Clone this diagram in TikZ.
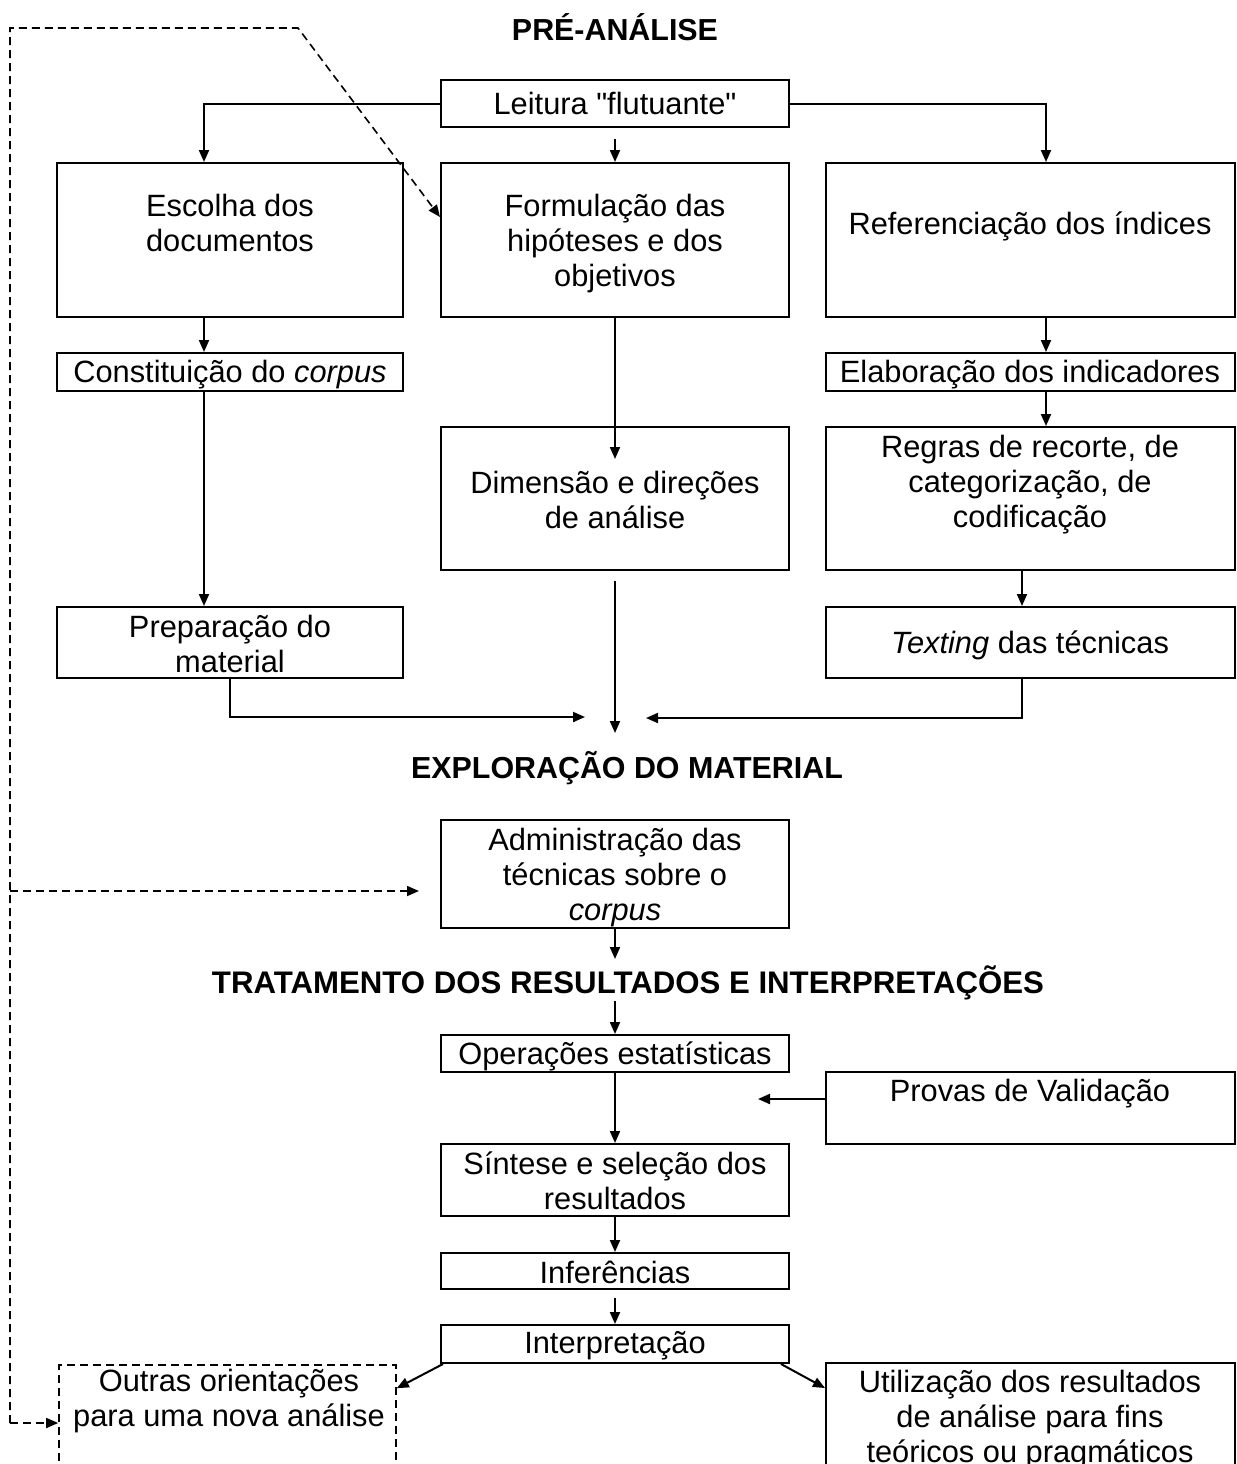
\documentclass[tikz,border=0pt]{standalone}
\usepackage{fontspec}
\setmainfont{Liberation Sans}
\newfontfamily\qfont{Liberation Sans}
\usetikzlibrary{arrows.meta,fit,calc}
\tikzset{
  box/.style={draw, line width=1pt, inner sep=0pt},
  dbox/.style={draw, line width=0.8pt, dash pattern=on 4pt off 2.5pt, inner sep=0pt},
  txt/.style={align=center, inner sep=0pt, font=\fontsize{15.4}{17.5}\selectfont},
  head/.style={inner sep=0pt, font=\fontsize{15.2}{18}\selectfont\bfseries},
  arr/.style={line width=1pt, -{Triangle[length=6pt,width=5pt]}},
  darr/.style={line width=0.8pt, dash pattern=on 4pt off 2.5pt, -{Triangle[length=6pt,width=5pt]}},
}
\begin{document}
\begin{tikzpicture}[x=0.5pt,y=-0.5pt]
\clip (0,0) rectangle (1237,1464);
\fill[white] (0,0) rectangle (1237,1464);

% headings
\node[head] (pre) at (615,27) {PRÉ-ANÁLISE};
\node[head] (expl) at (627,768) {EXPLORAÇÃO DO MATERIAL};
\node[head, font=\fontsize{15.6}{18}\selectfont\bfseries] (trat) at (628,983) {TRATAMENTO DOS RESULTADOS E INTERPRETAÇÕES};

% boxes
\node[box, fit={(441,80) (789,127)}] (leit) {};
\node[box, fit={(57,163) (403,317)}] (esc) {};
\node[box, fit={(441,163) (789,317)}] (form) {};
\node[box, fit={(826,163) (1235,317)}] (ref) {};
\node[box, fit={(57,353) (403,391)}] (const) {};
\node[box, fit={(826,353) (1235,391)}] (elab) {};
\node[box, fit={(441,427) (789,570)}] (dim) {};
\node[box, fit={(826,427) (1235,570)}] (regr) {};
\node[box, fit={(57,607) (403,678)}] (prep) {};
\node[box, fit={(826,607) (1235,678)}] (texting) {};
\node[box, fit={(441,820) (789,928)}] (admin) {};
\node[box, fit={(441,1035) (789,1072)}] (oper) {};
\node[box, fit={(826,1072) (1235,1144)}] (prov) {};
\node[box, fit={(441,1144) (789,1216)}] (sint) {};
\node[box, fit={(441,1253) (789,1289)}] (infer) {};
\node[box, fit={(441,1325) (789,1363)}] (interp) {};
\node[dbox, fit={(59,1365) (396,1500)}] (outras) {};
\node[box, fit={(826,1363) (1235,1500)}] (util) {};

% texts
\node[txt] (leitT) at (615,103) {Leitura {\qfont"}flutuante{\qfont"}};
\node[txt] (escT) at (230,223) {Escolha dos\\documentos};
\node[txt] (formT) at (615,244) {Formulação das\\hipóteses e dos\\objetivos};
\node[txt] (refT) at (1030,226) {Referenciação dos índices};
\node[txt] (constT) at (230,375) {Constituição do \textit{corpus}};
\node[txt] (elabT) at (1030,375) {Elaboração dos indicadores};
\node[txt] (dimT) at (615,500) {Dimensão e direções\\de análise};
\node[txt] (regrT) at (1030,485) {Regras de recorte, de\\categorização, de\\codificação};
\node[txt] (prepT) at (230,644) {Preparação do\\material};
\node[txt] (textingT) at (1030,645) {\textit{Texting} das técnicas};
\node[txt] (adminT) at (615,878) {Administração das\\técnicas sobre o\\\textit{corpus}};
\node[txt] (operT) at (615,1056) {Operações estatísticas};
\node[txt] (provT) at (1030,1094) {Provas de Validação};
\node[txt] (sintT) at (615,1181) {Síntese e seleção dos\\resultados};
\node[txt] (inferT) at (615,1272) {Inferências};
\node[txt] (interpT) at (615,1346) {Interpretação};
\node[txt] (outrasT) at (229,1401) {Outras orientações\\para uma nova análise};
\node[txt] (utilT) at (1030,1420) {Utilização dos resultados\\de análise para fins\\teóricos ou pragmáticos};

% free ends
\coordinate (jl) at (585,717);
\coordinate (jm) at (615,733);
\coordinate (jr) at (646,718);
\coordinate (t1) at (615,959);
\coordinate (t2) at (615,1001);
\coordinate (pv) at (758,1099);
\coordinate (lt) at (10,28);
\coordinate (dt) at (298,28);
\coordinate (lm) at (10,891);
\coordinate (am) at (419,891);
\coordinate (lb) at (10,1423);

% connectors
\draw[arr] (leit.west) -| ([xshift=-13pt]esc.north);
\draw[arr] (leit.east) -| ([xshift=7.75pt]ref.north);
\draw[arr] ([yshift=-5.5pt]leit.south) -- (form.north);
\draw[arr] ([xshift=-13pt]esc.south) -- ([xshift=-13pt]const.north);
\draw[arr] ([xshift=7.75pt]ref.south) -- ([xshift=7.75pt]elab.north);
\draw[arr] ([xshift=7.75pt]elab.south) -- ([xshift=7.75pt]regr.north);
\draw[arr] ([xshift=-13pt]const.south) -- ([xshift=-13pt]prep.north);
\draw[arr] (form.south) -- ([yshift=-16.5pt]dim.north);
\draw[arr] ([xshift=-4.25pt]regr.south) -- ([xshift=-4.25pt]texting.north);
\draw[arr] (prep.south) |- (jl);
\draw[arr] ([yshift=-5pt]dim.south) -- (jm);
\draw[arr] ([xshift=-4.25pt]texting.south) |- (jr);
\draw[arr] (admin.south) -- (t1);
\draw[arr] (t2) -- (oper.north);
\draw[arr] (oper.south) -- (sint.north);
\draw[arr] ([yshift=4.5pt]prov.west) -- (pv);
\draw[arr] (sint.south) -- (infer.north);
\draw[arr] ([yshift=-4pt]infer.south) -- (interp.north);
\draw[arr] ([xshift=1.5pt]interp.south west) -- ([yshift=-12pt]outras.north east);
\draw[arr] ([xshift=-4.5pt]interp.south east) -- ([yshift=-13pt]util.north west);

% dashed feedback
\draw[darr] (lb) -- (lt) -- (dt) -- ([yshift=11.5pt]form.west);
\draw[darr] (lm) -- (am);
\draw[darr] (lb) -- (lb -| outras.west);
\end{tikzpicture}
\end{document}
